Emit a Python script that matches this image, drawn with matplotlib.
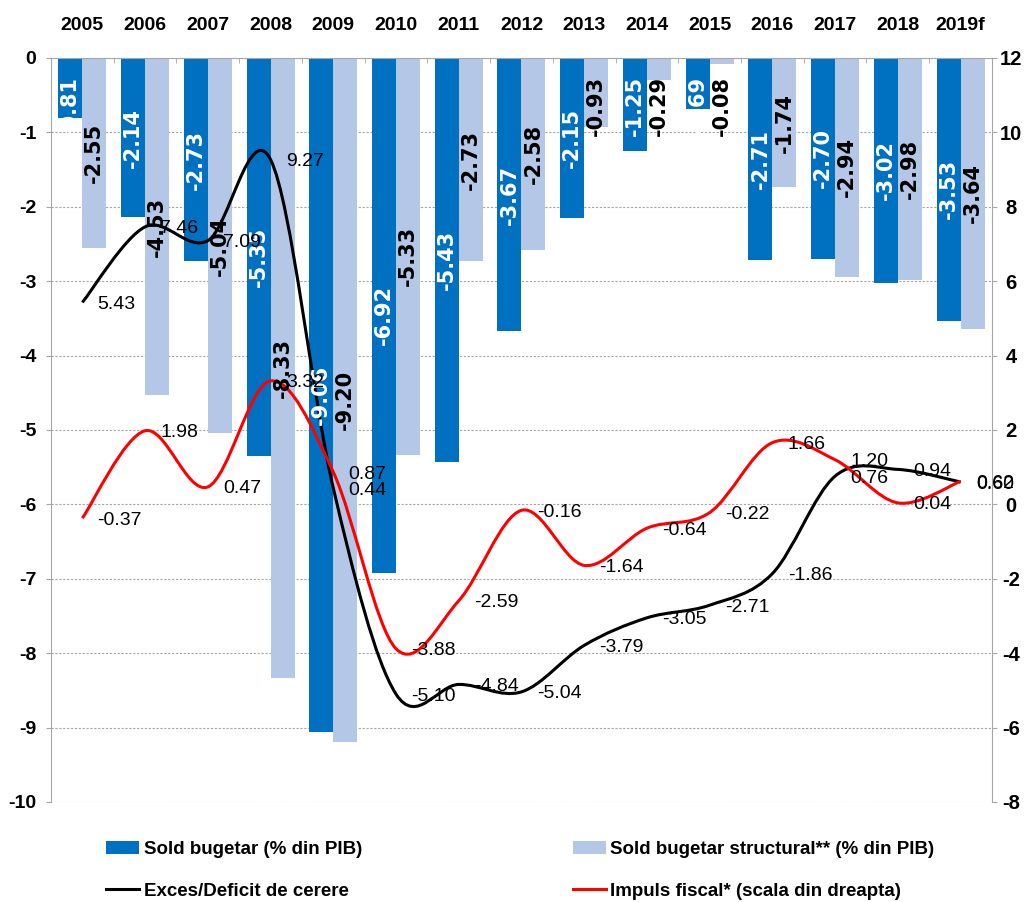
import matplotlib

matplotlib.use("Agg")

import matplotlib.pyplot as plt
import numpy as np
from matplotlib.lines import Line2D
from matplotlib.patches import Patch, PathPatch
from matplotlib.path import Path

years = ["2005", "2006", "2007", "2008", "2009", "2010", "2011", "2012",
         "2013", "2014", "2015", "2016", "2017", "2018", "2019f"]
sold_bugetar = [-0.81, -2.14, -2.73, -5.35, -9.06, -6.92, -5.43, -3.67,
                -2.15, -1.25, -0.69, -2.71, -2.70, -3.02, -3.53]
sold_structural = [-2.55, -4.53, -5.04, -8.33, -9.20, -5.33, -2.73, -2.58,
                   -0.93, -0.29, -0.08, -1.74, -2.94, -2.98, -3.64]
exces_deficit = [5.43, 7.46, 7.09, 9.27, 0.44, -5.10, -4.84, -5.04,
                 -3.79, -3.05, -2.71, -1.86, 0.76, 0.94, 0.60]
impuls_fiscal = [-0.37, 1.98, 0.47, 3.32, 0.87, -3.88, -2.59, -0.16,
                 -1.64, -0.64, -0.22, 1.66, 1.20, 0.04, 0.62]

legend_labels = ["Sold bugetar (% din PIB)", "Exces/Deficit de cerere",
                 "Sold bugetar structural** (% din PIB)",
                 "Impuls fiscal* (scala din dreapta)"]

FONT = "Liberation Sans"
DARK = "#0070C0"
LIGHT = "#B4C7E7"
GRID = "#A6A6A6"

plt.rcParams["font.family"] = [FONT, "DejaVu Sans"]
plt.rcParams["font.weight"] = "bold"
plt.rcParams["axes.unicode_minus"] = False


def smooth_path(xs, ys):
    # Excel-style smoothed line: Catmull-Rom segments as cubic Beziers
    pts = np.column_stack([xs, ys]).astype(float)
    n = len(pts)
    verts = [pts[0]]
    codes = [Path.MOVETO]
    for i in range(n - 1):
        p0 = pts[i - 1] if i > 0 else pts[i]
        p1, p2 = pts[i], pts[i + 1]
        p3 = pts[i + 2] if i + 2 < n else pts[i + 1]
        verts += [p1 + (p2 - p0) / 6, p2 - (p3 - p1) / 6, p2]
        codes += [Path.CURVE4] * 3
    return Path(verts, codes)


fig = plt.figure(figsize=(10.32, 9.02), dpi=100)
ax = fig.add_axes([0.0494, 0.1109, 0.9118, 0.8248])
ax2 = ax.twinx()

x = np.arange(len(years))
w = 0.383
ax.bar(x - w / 2, sold_bugetar, w, color=DARK, zorder=2)
ax.bar(x + w / 2, sold_structural, w, color=LIGHT, zorder=2)

ax.set_xlim(-0.5, len(years) - 0.5)
ax.set_ylim(-10, 0)
ax.set_yticks(range(-10, 1))
ax.yaxis.grid(True, color=GRID, linestyle=(0, (2, 1.5)), linewidth=0.8)
ax.set_axisbelow(True)

ax.xaxis.tick_top()
ax.set_xticks(x)
ax.set_xticklabels(years)
ax.set_xticks(np.arange(-0.5, len(years)), minor=True)
ax.tick_params(axis="x", which="major", length=0, pad=17, labelsize=14)
ax.tick_params(axis="x", which="minor", direction="in", length=3.6,
               color=GRID, top=True, bottom=False)
ax.tick_params(axis="y", direction="out", length=3.6, color=GRID,
               pad=7, labelsize=14)
ax.spines["bottom"].set_visible(False)
ax.spines["right"].set_visible(False)
for side in ("top", "left"):
    ax.spines[side].set_color(GRID)

ax2.set_ylim(-8, 12)
ax2.set_yticks(range(-8, 13, 2))
ax2.tick_params(axis="y", direction="out", length=3.6, color=GRID,
                pad=10, labelsize=14.5)
for lbl in ax2.get_yticklabels():
    lbl.set_horizontalalignment("center")
for side in ("top", "left", "bottom"):
    ax2.spines[side].set_visible(False)
ax2.spines["right"].set_color(GRID)

ax2.add_patch(PathPatch(smooth_path(x, exces_deficit), fill=False,
                        edgecolor="black", linewidth=2.2, zorder=3))
ax2.add_patch(PathPatch(smooth_path(x, impuls_fiscal), fill=False,
                        edgecolor="#FF0000", linewidth=2.2, zorder=3))

for xi, v in zip(x, exces_deficit):
    ax2.annotate(f"{v:.2f}", (xi, v), xytext=(11, -1.5),
                 textcoords="offset points", ha="left", va="center",
                 fontsize=14, fontweight="normal", zorder=6)
for xi, v in zip(x, impuls_fiscal):
    ax2.annotate(f"{v:.2f}", (xi, v), xytext=(11, -1.5),
                 textcoords="offset points", ha="left", va="center",
                 fontsize=14, fontweight="normal", zorder=6)

# bar labels, centred in the bar but kept clear of the top edge
for xi, v in zip(x, sold_bugetar):
    ax2.text(xi - w / 2, min(v / 2, -0.65), f"{v:.2f}", transform=ax.transData,
             rotation=90, ha="center", va="center", color="white",
             family="DejaVu Sans", fontweight="bold", fontsize=15, zorder=5)
for xi, v in zip(x, sold_structural):
    ax2.text(xi + w / 2, min(v / 2, -0.65), f"{v:.2f}", transform=ax.transData,
             rotation=90, ha="center", va="center", color="black",
             family="DejaVu Sans", fontweight="bold", fontsize=15, zorder=5)

handles = [Patch(facecolor=DARK), Line2D([], [], color="black", lw=2.2),
           Patch(facecolor=LIGHT), Line2D([], [], color="#FF0000", lw=2.2)]
common = dict(frameon=False, borderpad=0, borderaxespad=0, handlelength=1.75,
              handleheight=0.7, handletextpad=0.25, labelspacing=1.3,
              prop={"family": FONT, "weight": "bold", "size": 13.5})
fig.legend(handles[:2], legend_labels[:2], loc="upper left",
           bbox_to_anchor=(106 / 1032, 1 - 841 / 902), **common)
fig.legend(handles[2:], legend_labels[2:], loc="upper left",
           bbox_to_anchor=(573 / 1032, 1 - 841 / 902), **common)

fig.savefig("out.png", dpi=100)
plt.close(fig)
